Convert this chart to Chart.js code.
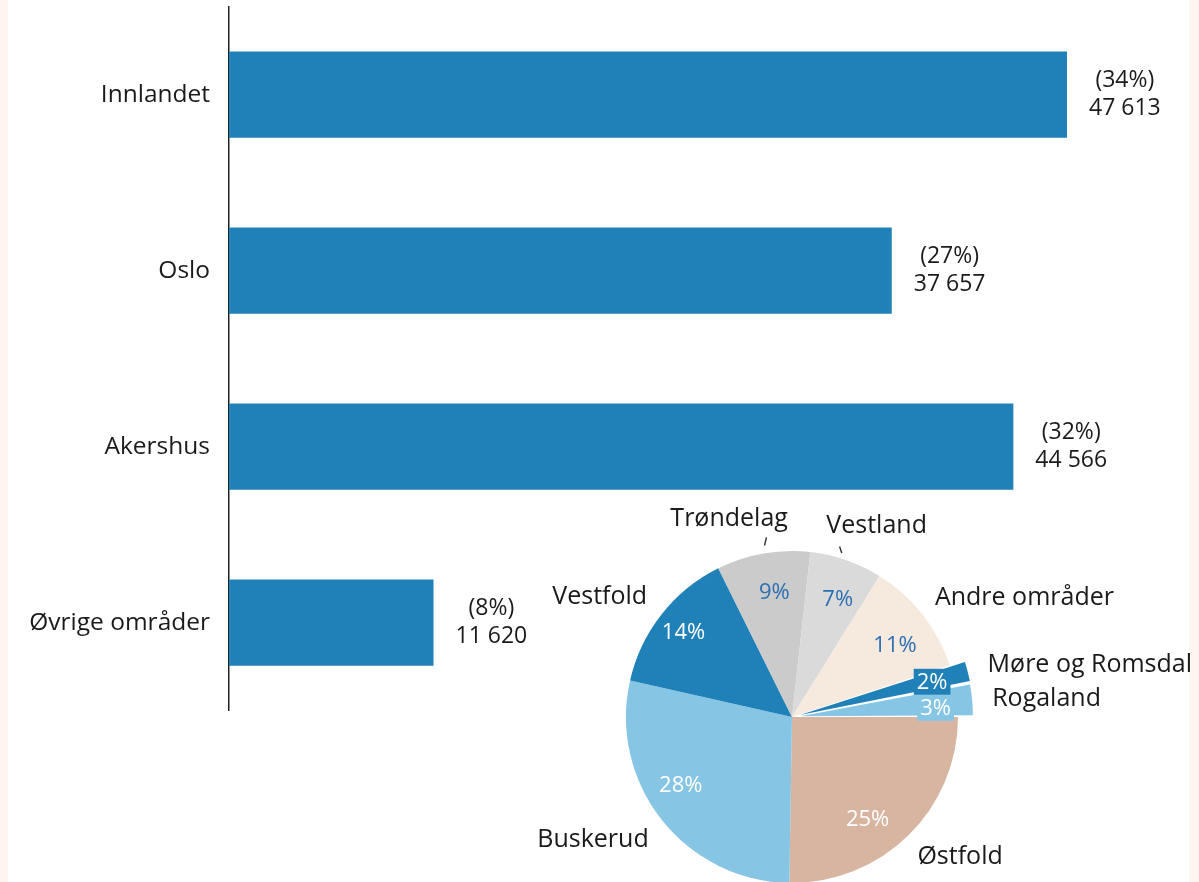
<!DOCTYPE html>
<html lang="no">
<head>
<meta charset="utf-8">
<title>Fordeling etter område</title>
<script src="https://cdn.jsdelivr.net/npm/chart.js@4/dist/chart.umd.min.js"></script>
<style>
  html, body { margin: 0; padding: 0; width: 1199px; height: 882px; overflow: hidden; background: #fdf6f0; }
  #page { position: absolute; left: 8px; top: 0; width: 1181px; height: 882px; background: #ffffff; }
  #bars { position: absolute; left: 0; top: -27px; }
  #pie { position: absolute; left: 385px; top: 480px; }
</style>
</head>
<body>
<div id="page"></div>
<canvas id="bars" width="1199" height="909"></canvas>
<canvas id="pie" width="814" height="474"></canvas>
<script>
// Bar chart data
const regions = ['Innlandet', 'Oslo', 'Akershus', 'Øvrige områder'];
const regionCounts = [47613, 37657, 44566, 11620];
const regionShares = [34, 27, 32, 8];

// Breakdown of "Øvrige områder" (pie)
const pieRegions = ['Østfold', 'Buskerud', 'Vestfold', 'Trøndelag', 'Vestland', 'Andre områder', 'Møre og Romsdal', 'Rogaland'];
const pieShares = [25, 28, 14, 9, 7, 11, 2, 3];

// Styling
const FONT = '"Open Sans", "Noto Sans", sans-serif';
const TEXT = '#1a1a1a';
const BAR_BLUE = '#2081b9';
const pieColors = ['#d8b5a0', '#86c5e4', '#2081b9', '#cbcbcb', '#dadada', '#f6e9dd', '#2081b9', '#86c5e4'];
const pieOffsets = [0, 0, 0, 0, 0, 0, 33, 33];
const pctColors = ['#ffffff', '#ffffff', '#ffffff', '#2c6fb3', '#2c6fb3', '#2c6fb3', '#ffffff', '#ffffff'];
const pctBoxed = [false, false, false, false, false, false, true, true];
// label placement around each slice: angle nudge (deg) and distance
const pctAngle = [8, 7, 0, 2, 2, 3, 0.5, 2];
const pctRadius = [127, 130, 138, 127, 127, 126, 129, 129];
const nameAngle = [2.7, -2.5, 1.4, -7.6, -8.9, -1.6, -0.4, 0.4];
const nameGap = [22, 23, 22, 42, 28, 20, 21, 20];
const nameAlign = ['left', 'right', 'right', 'center', 'left', 'left', 'left', 'left'];
const leaders = [
  { i: 3, a1: 0.9, r1: 173.7, a2: 1.9, r2: 181.5 },
  { i: 4, a1: -2.2, r1: 171.3, a2: -3.5, r2: 177 }
];

function formatNo(n) {
  return String(n).replace(/\B(?=(\d{3})+(?!\d))/g, ' ');
}

const barValueLabels = {
  id: 'barValueLabels',
  afterDatasetsDraw(chart) {
    const ctx = chart.ctx;
    const meta = chart.getDatasetMeta(0);
    ctx.save();
    ctx.font = '23px ' + FONT;
    ctx.fillStyle = TEXT;
    ctx.textAlign = 'center';
    ctx.textBaseline = 'middle';
    meta.data.forEach((bar, i) => {
      const l1 = '(' + regionShares[i] + '%)';
      const l2 = formatNo(regionCounts[i]);
      const w = Math.max(ctx.measureText(l1).width, ctx.measureText(l2).width);
      const cx = bar.x + 22 + w / 2;
      ctx.fillText(l1, cx, bar.y - 14);
      ctx.fillText(l2, cx, bar.y + 14);
    });
    ctx.restore();
  }
};

new Chart(document.getElementById('bars'), {
  type: 'bar',
  data: {
    labels: regions,
    datasets: [{
      data: regionCounts,
      backgroundColor: BAR_BLUE,
      borderWidth: 0,
      categoryPercentage: 1,
      barPercentage: 0.49
    }]
  },
  options: {
    indexAxis: 'y',
    responsive: false,
    animation: false,
    devicePixelRatio: 1,
    layout: { padding: { top: 0, bottom: 171.5, left: 0, right: 2 } },
    plugins: { legend: { display: false }, tooltip: { enabled: false } },
    scales: {
      x: { display: false, min: 0, max: 55000 },
      y: {
        grid: { display: false, drawTicks: false },
        border: { display: true, color: '#222222', width: 1.5 },
        ticks: { color: TEXT, font: { family: FONT, size: 24.5 }, padding: 19 },
        afterFit(scale) { scale.width = 229; }
      }
    }
  },
  plugins: [barValueLabels]
});

// distance Chart.js moves an offset arc outward
function arcShift(arc, off) {
  const circ = arc.endAngle - arc.startAngle;
  return off / 4 * (2 - Math.sin(Math.min(Math.PI, circ)));
}

const pieLabels = {
  id: 'pieLabels',
  afterDatasetsDraw(chart) {
    const ctx = chart.ctx;
    const meta = chart.getDatasetMeta(0);
    const rad = d => d * Math.PI / 180;
    ctx.save();
    meta.data.forEach((arc, i) => {
      const mid = (arc.startAngle + arc.endAngle) / 2;
      const shift = pieOffsets[i] ? arcShift(arc, pieOffsets[i]) : 0;
      const cx = arc.x + Math.cos(mid) * shift;
      const cy = arc.y + Math.sin(mid) * shift;
      const R = arc.outerRadius;

      // percentage inside the slice
      const a = mid + rad(pctAngle[i]);
      const px = cx + Math.cos(a) * pctRadius[i];
      const py = cy + Math.sin(a) * pctRadius[i];
      const txt = pieShares[i] + '%';
      ctx.font = '22px ' + FONT;
      ctx.textAlign = 'center';
      ctx.textBaseline = 'middle';
      if (pctBoxed[i]) {
        const w = ctx.measureText(txt).width;
        ctx.fillStyle = pieColors[i];
        ctx.fillRect(px - w / 2 - 3, py - 13, w + 6, 26);
      }
      ctx.fillStyle = pctColors[i];
      ctx.fillText(txt, px, py + 1);

      // region name outside the slice
      const b = mid + rad(nameAngle[i]);
      const d = R + shift + nameGap[i];
      ctx.font = '25px ' + FONT;
      ctx.fillStyle = TEXT;
      ctx.textAlign = nameAlign[i];
      ctx.fillText(pieRegions[i], arc.x + Math.cos(b) * d, arc.y + Math.sin(b) * d);
    });

    // short leader strokes
    ctx.strokeStyle = '#333333';
    ctx.lineWidth = 1.4;
    leaders.forEach(l => {
      const arc = meta.data[l.i];
      const mid = (arc.startAngle + arc.endAngle) / 2;
      const p1 = mid + rad(l.a1), p2 = mid + rad(l.a2);
      ctx.beginPath();
      ctx.moveTo(arc.x + Math.cos(p1) * l.r1, arc.y + Math.sin(p1) * l.r1);
      ctx.lineTo(arc.x + Math.cos(p2) * l.r2, arc.y + Math.sin(p2) * l.r2);
      ctx.stroke();
    });
    ctx.restore();
  }
};

new Chart(document.getElementById('pie'), {
  type: 'pie',
  data: {
    labels: pieRegions,
    datasets: [{
      data: pieShares,
      backgroundColor: pieColors,
      borderWidth: 0,
      offset: pieOffsets
    }]
  },
  options: {
    responsive: false,
    animation: false,
    devicePixelRatio: 1,
    rotation: 90,
    radius: 166,
    layout: { padding: 0 },
    plugins: { legend: { display: false }, tooltip: { enabled: false } }
  },
  plugins: [pieLabels]
});
</script>
</body>
</html>
